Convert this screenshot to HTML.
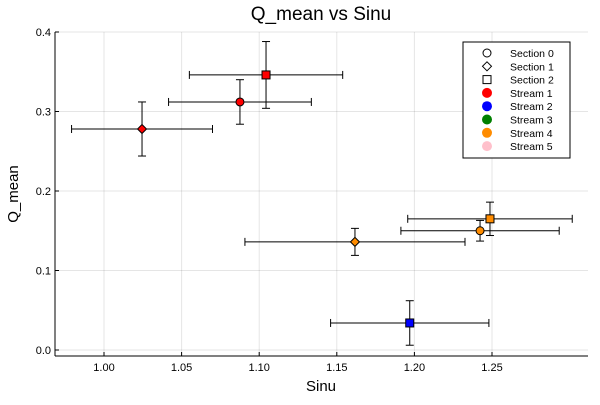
<!DOCTYPE html>
<html><head><meta charset="utf-8"><style>
body{margin:0;background:#fff}
svg{font-family:"Liberation Sans",sans-serif}
</style></head><body>
<svg id="chart" width="600" height="400">
<rect width="600" height="400" fill="#fff"/>
<text x="321" y="20" font-size="19" text-anchor="middle">Q_mean vs Sinu</text>
<g id="grid"></g>
<g id="axes"></g>
<g id="marks"></g>
<text x="321" y="391" font-size="15" text-anchor="middle">Sinu</text>
<text x="18" y="194" font-size="15" text-anchor="middle" transform="rotate(-90 18 194)">Q_mean</text>
<g id="legend"></g>
</svg>
<script>
const xs=[1.0245,1.0876,1.1044,1.1617,1.2423,1.2487,1.197];
const ys=[0.278,0.312,0.346,0.136,0.150,0.165,0.034];
const xerr=[0.0454,0.046,0.0494,0.0709,0.051,0.053,0.051];
const yerr=[0.034,0.028,0.042,0.017,0.013,0.021,0.028];
const sections=[1,0,2,1,0,2,2];
const streams=[1,1,1,4,4,4,2];
const xTicks=[1.00,1.05,1.10,1.15,1.20,1.25];
const yTicks=[0.0,0.1,0.2,0.3,0.4];
const colors=['#000','red','blue','green','darkorange','pink'];
const L=55,R=588,T=32,B=356;
const X=v=>104+(v-1)*1552, Y=v=>350-v*795;
const NS='http://www.w3.org/2000/svg';
function mk(t,a,p){const e=document.createElementNS(NS,t);for(const k in a)e.setAttribute(k,a[k]);p.appendChild(e);return e;}
const g=document.getElementById('grid'),ax=document.getElementById('axes'),m=document.getElementById('marks'),lg=document.getElementById('legend');
xTicks.forEach(v=>{const gl=mk('line',{x1:X(v),x2:X(v),y1:T,y2:B,stroke:'#000','stroke-opacity':0.1},g);

const tl=mk('text',{x:X(v),y:B+15,'font-size':11,'text-anchor':'middle'},ax);tl.textContent=v.toFixed(2);

mk('line',{x1:X(v),x2:X(v),y1:B,y2:B-4,stroke:'#000'},ax);});
yTicks.forEach(v=>{const gl=mk('line',{x1:L,x2:R,y1:Y(v),y2:Y(v),stroke:'#000','stroke-opacity':0.1},g);

const tl=mk('text',{x:L-4,y:Y(v)+4,'font-size':11,'text-anchor':'end'},ax);tl.textContent=v.toFixed(1);

mk('line',{x1:L,x2:L+4,y1:Y(v),y2:Y(v),stroke:'#000'},ax);});
mk('line',{x1:L,x2:R,y1:B,y2:B,stroke:'#000'},ax);
mk('line',{x1:L,x2:L,y1:T,y2:B,stroke:'#000'},ax);
function marker(s,cx,cy,fill,p){
 if(s===0)return mk('circle',{cx,cy,r:4,fill,stroke:'#000','stroke-width':1},p);
 if(s===1)return mk('polygon',{points:`${cx},${cy-4.5} ${cx+4.5},${cy} ${cx},${cy+4.5} ${cx-4.5},${cy}`,fill,stroke:'#000'},p);
 return mk('rect',{x:cx-4,y:cy-4,width:8,height:8,fill,stroke:'#000'},p);}
xs.forEach((v,i)=>{const cx=X(v),cy=Y(ys[i]);
 const eb=mk('g',{stroke:'#000','stroke-width':1},m);
 
 const x1=X(v-xerr[i]),x2=X(v+xerr[i]),y1=Y(ys[i]-yerr[i]),y2=Y(ys[i]+yerr[i]);
 mk('line',{x1,x2,y1:cy,y2:cy},eb);mk('line',{x1,x2:x1,y1:cy-4,y2:cy+4},eb);mk('line',{x1:x2,x2,y1:cy-4,y2:cy+4},eb);
 mk('line',{x1:cx,x2:cx,y1,y2},eb);mk('line',{x1:cx-4,x2:cx+4,y1,y2:y1},eb);mk('line',{x1:cx-4,x2:cx+4,y1:y2,y2},eb);
 const pt=marker(sections[i],cx,cy,colors[streams[i]],m);
 });
const box=mk('rect',{x:463,y:42,width:107,height:116,fill:'#fff',stroke:'#000'},lg);

const labels=['Section 0','Section 1','Section 2','Stream 1','Stream 2','Stream 3','Stream 4','Stream 5'];
labels.forEach((t,i)=>{const y=53+i*13.3;
 let e;if(i<3)e=marker(i,487,y,'#fff',lg);else e=mk('circle',{cx:487,cy:y,r:5,fill:colors[i-2]},lg);
 
 const tx=mk('text',{x:510,y:y+4,'font-size':10.5},lg);tx.textContent=t;
 });
</script>
</body></html>
